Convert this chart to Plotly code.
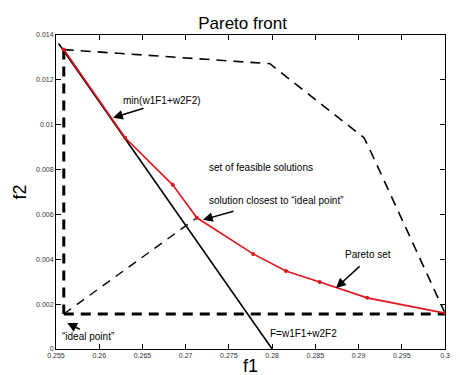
import plotly.graph_objs as go

# Pareto set (red)
pareto_f1 = [0.2559, 0.2630, 0.2685, 0.2713, 0.2778, 0.2816, 0.2855, 0.2910, 0.3000]
pareto_f2 = [0.01335, 0.00942, 0.00732, 0.00585, 0.00424, 0.00348, 0.00299, 0.00228, 0.00160]

# boundary of the feasible set (dashed)
feas_f1 = [0.2559, 0.27976, 0.28045, 0.29063, 0.29132, 0.3000]
feas_f2 = [0.01335, 0.01272, 0.01250, 0.00942, 0.00888, 0.00160]

# ideal point and the closest solution
ideal = (0.2559, 0.00156)
closest = (0.2713, 0.00585)

# weighted sum line F=w1F1+w2F2
ws_f1 = [0.2553, 0.2800]
ws_f2 = [0.01362, 0.0]

xticks = [0.255, 0.26, 0.265, 0.27, 0.275, 0.28, 0.285, 0.29, 0.295, 0.3]
xlabels = ["0.255", "0.26", "0.265", "0.27", "0.275", "0.28", "0.285", "0.29", "0.295", "0.3"]
yticks = [0, 0.002, 0.004, 0.006, 0.008, 0.01, 0.012, 0.014]
ylabels = ["0", "0.002", "0.004", "0.006", "0.008", "0.01", "0.012", "0.014"]

# labels (left edge, middle) and arrows (head, tail offset in px)
labels = [
    (0.26252, 0.01107, "min(w1F1+w2F2)"),
    (0.27247, 0.00808, "set of feasible solutions"),
    (0.27247, 0.00661, "solution closest to \u201cideal point\u201d"),
    (0.28820, 0.00420, "Pareto set"),
    (0.27953, 0.00071, "F=w1F1+w2F2"),
    (0.25546, 0.00054, "\u201cideal point\u201d"),
]
arrows = [
    (0.2616, 0.01031, 32, -10),
    (0.2720, 0.00576, 32, -9),
    (0.2874, 0.00272, 25, -23),
    (0.2563, 0.00116, 14, 7),
]

FONT = "Liberation Sans, Arial"

fig = go.Figure()
fig.add_trace(go.Scatter(x=feas_f1, y=feas_f2, mode="lines",
                         line=dict(color="black", width=1.6, dash="10px,7px")))
fig.add_trace(go.Scatter(x=[ideal[0], ideal[0]], y=[pareto_f2[0], ideal[1]], mode="lines",
                         line=dict(color="black", width=3, dash="10px,7px")))
fig.add_trace(go.Scatter(x=[ideal[0], pareto_f1[-1]], y=[ideal[1], ideal[1]], mode="lines",
                         line=dict(color="black", width=3, dash="10px,7px")))
fig.add_trace(go.Scatter(x=[ideal[0], closest[0]], y=[ideal[1], closest[1]], mode="lines",
                         line=dict(color="black", width=1.4, dash="9px,7px")))
fig.add_trace(go.Scatter(x=ws_f1, y=ws_f2, mode="lines",
                         line=dict(color="black", width=1.6)))
fig.add_trace(go.Scatter(x=pareto_f1, y=pareto_f2, mode="lines+markers",
                         line=dict(color="#e0151b", width=1.6),
                         marker=dict(color="#e0151b", size=4)))

for x, y, t in labels:
    fig.add_annotation(x=x, y=y, text=t, showarrow=False, xanchor="left", yanchor="middle",
                       font=dict(family=FONT, size=10, color="black"))
for x, y, ax, ay in arrows:
    fig.add_annotation(x=x, y=y, ax=ax, ay=ay, text="", showarrow=True, arrowhead=2,
                       arrowsize=1.3, arrowwidth=1.5, arrowcolor="black")

# axis title f1 placed just under the tick labels
fig.add_annotation(x=0.5, y=0, xref="paper", yref="paper", yshift=-17, text="f1",
                   showarrow=False, xanchor="center", yanchor="middle",
                   font=dict(family=FONT, size=18, color="black"))

axis_common = dict(showline=True, linecolor="black", linewidth=1, mirror="ticks",
                   ticks="inside", ticklen=5, tickcolor="black", showgrid=False, zeroline=False,
                   tickfont=dict(family=FONT, size=7, color="#333333"))
fig.update_xaxes(range=[0.255, 0.3], tickvals=xticks, ticktext=xlabels, **axis_common)
fig.update_yaxes(range=[0, 0.014], tickvals=yticks, ticktext=ylabels,
                 title=dict(text="f2", font=dict(family=FONT, size=18, color="black"), standoff=4),
                 **axis_common)
fig.update_layout(width=460, height=375, showlegend=False,
                  plot_bgcolor="white", paper_bgcolor="white",
                  margin=dict(l=48, r=23, t=27, b=34),
                  title=dict(text="Pareto front", x=0.51, xanchor="center", y=0.975,
                             font=dict(family=FONT, size=17, color="black")))
fig.write_html("out.html")
